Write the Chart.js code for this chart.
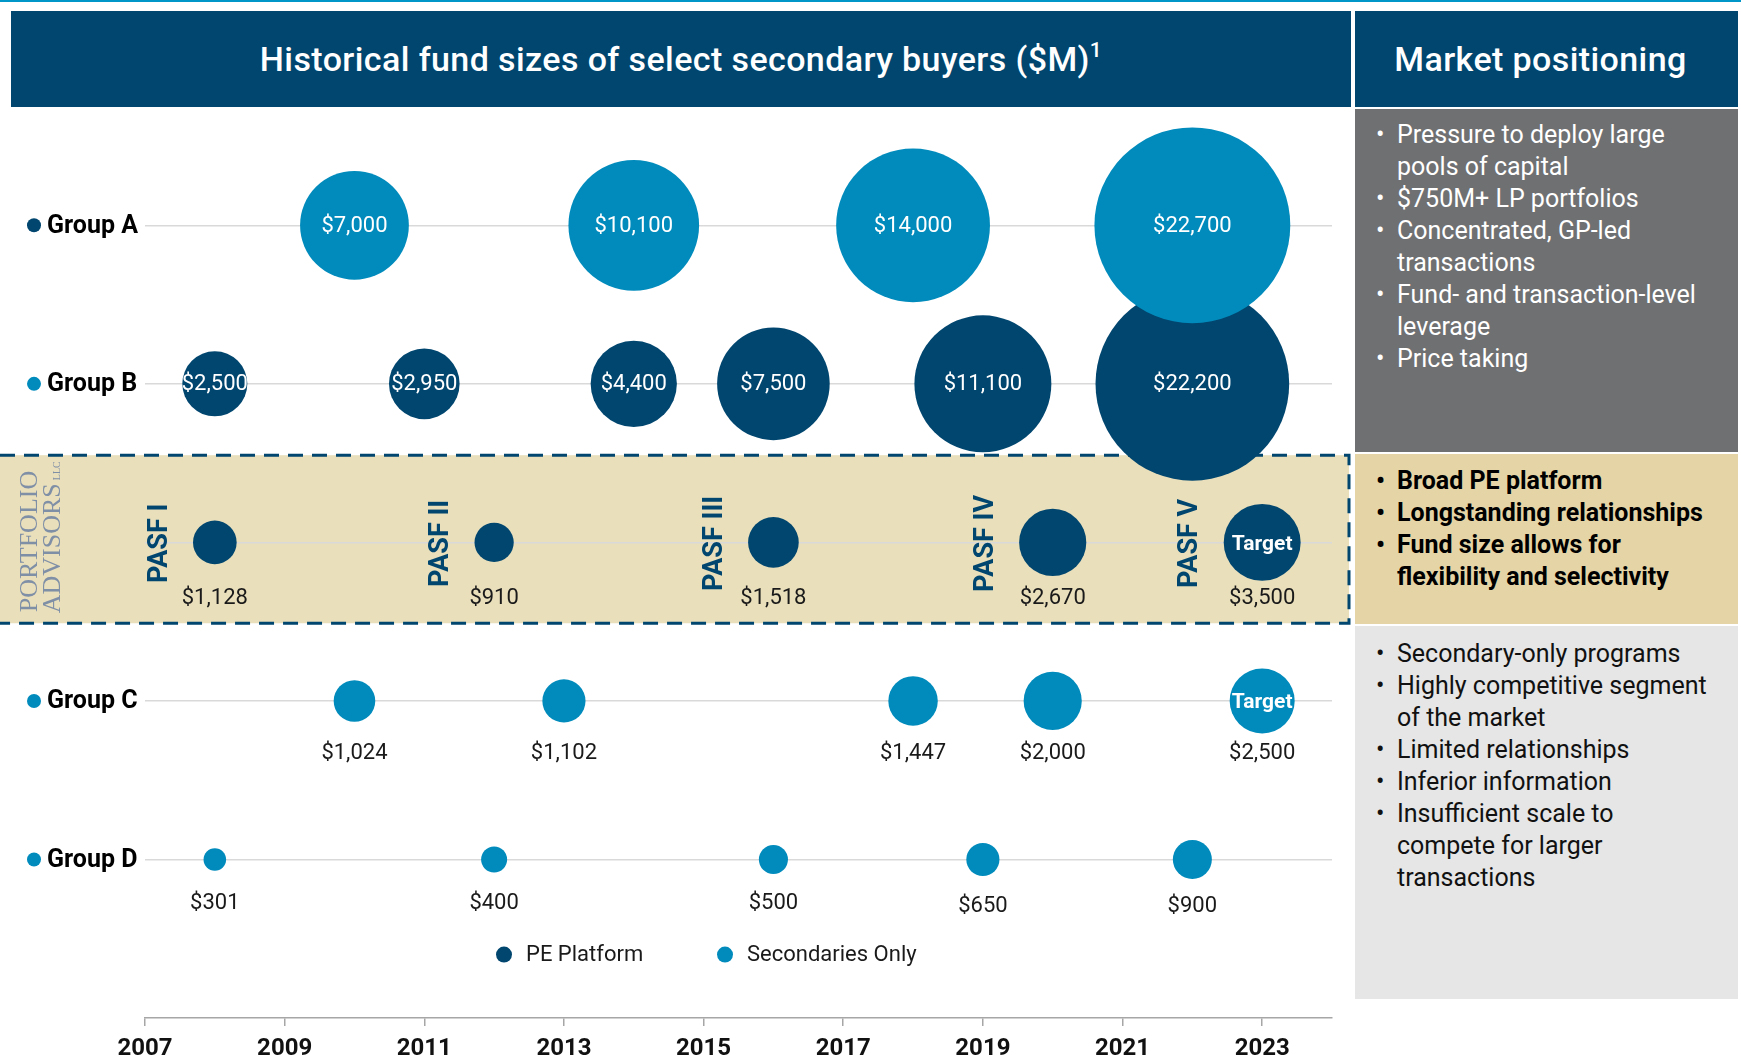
<!DOCTYPE html>
<html><head><meta charset="utf-8">
<script src="https://cdn.jsdelivr.net/npm/chart.js@4.4.1/dist/chart.umd.min.js"></script>
<style>
html,body{margin:0;padding:0;background:#fff;}
body{width:1741px;height:1060px;position:relative;overflow:hidden;font-family:Roboto,'Liberation Sans',sans-serif;}
#topline{position:absolute;left:0;top:0;width:1741px;height:2px;background:#0096c8;}
#wrap{position:absolute;left:0;top:0;width:1351px;height:1060px;}
.hdr{position:absolute;top:11px;height:96px;background:#00466f;color:#fff;display:flex;align-items:center;justify-content:center;font-weight:500;font-size:34px;letter-spacing:0.4px;white-space:nowrap;}
.hdr sup{font-size:21px;vertical-align:14px;line-height:0;}
#hdrL{left:11px;width:1340px;}
#hdrR{left:1355px;width:383px;}
#hdrR span{margin-right:12px;}
.panel{position:absolute;left:1355px;width:383px;box-sizing:border-box;padding-left:42px;font-size:25px;line-height:32px;white-space:nowrap;}
.panel ul{list-style:none;margin:0;padding:0;}
.panel li{position:relative;}
.panel li::before{content:'\2022';position:absolute;left:-21px;}
#p1{top:109px;height:343px;background:#6f7072;color:#fff;padding-top:10px;}
#p2{top:454px;height:170px;background:#e5d5a6;color:#000;font-weight:700;padding-top:11px;}
#p3{top:626px;height:373px;background:#e6e6e6;color:#111;padding-top:12px;}
</style></head>
<body>
<div id="topline"></div>
<div id="wrap"><canvas id="c" width="1351" height="1060"></canvas></div>
<div class="hdr" id="hdrL"><span>Historical fund sizes of select secondary buyers ($M)<sup>1</sup></span></div>
<div class="hdr" id="hdrR"><span>Market positioning</span></div>
<div class="panel" id="p1"><ul>
<li>Pressure to deploy large<br>pools of capital</li>
<li>$750M+ LP portfolios</li>
<li>Concentrated, GP-led<br>transactions</li>
<li>Fund- and transaction-level<br>leverage</li>
<li>Price taking</li>
</ul></div>
<div class="panel" id="p2"><ul>
<li>Broad PE platform</li>
<li>Longstanding relationships</li>
<li>Fund size allows for<br>flexibility and selectivity</li>
</ul></div>
<div class="panel" id="p3"><ul>
<li>Secondary-only programs</li>
<li>Highly competitive segment<br>of the market</li>
<li>Limited relationships</li>
<li>Inferior information</li>
<li>Insufficient scale to<br>compete for larger<br>transactions</li>
</ul></div>
<script>
// ---- data ----
const tickYears = [2007, 2009, 2011, 2013, 2015, 2017, 2019, 2021, 2023];
const rowLabels = ['Group A', 'Group B', '', 'Group C', 'Group D'];
const legendLabels = ['PE Platform', 'Secondaries Only'];

const groupAYears = [2010, 2014, 2018, 2022];
const groupAValues = [7000, 10100, 14000, 22700];

const groupBYears = [2008, 2011, 2014, 2016, 2019, 2022];
const groupBValues = [2500, 2950, 4400, 7500, 11100, 22200];

const pasfYears = [2008, 2012, 2016, 2020, 2023];
const pasfValues = [1128, 910, 1518, 2670, 3500];
const pasfNames = ['PASF I', 'PASF II', 'PASF III', 'PASF IV', 'PASF V'];
const pasfTarget = [false, false, false, false, true];

const groupCYears = [2010, 2013, 2018, 2020, 2023];
const groupCValues = [1024, 1102, 1447, 2000, 2500];
const groupCTarget = [false, false, false, false, true];

const groupDYears = [2008, 2012, 2016, 2019, 2022];
const groupDValues = [301, 400, 500, 650, 900];

// ---- styles ----
const NAVY = '#00466f', LIGHT = '#008bbc', TXT = '#1a1a1a';
const FONT = 'Roboto, "Liberation Sans", sans-serif';
const K = 0.65; // px per sqrt($M)
const rowDotColors = [NAVY, LIGHT, null, LIGHT, LIGHT];
const belowOffset = [0, 0, 56, 53, 44];

function pts(years, values, row) { return years.map((x, i) => ({ x: x, y: row, v: values[i] })); }
function fmt(v) { return '$' + String(v).replace(/\B(?=(\d{3})+(?!\d))/g, ','); }

const ds = (label, data, color) => ({
  label, data, backgroundColor: color, borderWidth: 0, hoverBorderWidth: 0,
  radius: ctx => K * Math.sqrt(ctx.raw.v), hoverRadius: 0, clip: false
});

const bandPlugin = {
  id: 'band',
  beforeDraw(chart) {
    const { ctx, chartArea, scales } = chart;
    const y = scales.y;
    const top = y.getPixelForValue(1.45), bot = y.getPixelForValue(2.51);
    const right = chartArea.right + 17;
    ctx.save();
    ctx.fillStyle = '#e9dfbb';
    ctx.fillRect(0, top, right, bot - top);
    ctx.strokeStyle = NAVY; ctx.lineWidth = 3; ctx.setLineDash([15, 9]);
    ctx.beginPath(); ctx.moveTo(0, top); ctx.lineTo(right, top); ctx.lineTo(right, bot); ctx.lineTo(0, bot); ctx.stroke();
    ctx.setLineDash([]);
    // logo
    ctx.fillStyle = '#7f8fa6';
    ctx.textBaseline = 'alphabetic'; ctx.textAlign = 'left';
    ctx.font = '26px "Liberation Serif", "DejaVu Serif", serif';
    ctx.save(); ctx.translate(37, bot - 11); ctx.rotate(-Math.PI / 2); ctx.fillText('PORTFOLIO', 0, 0); ctx.restore();
    ctx.save(); ctx.translate(60, bot - 10); ctx.rotate(-Math.PI / 2);
    ctx.fillText('ADVISORS', 0, 0);
    const w = ctx.measureText('ADVISORS').width;
    ctx.font = '10px "Liberation Serif", serif'; ctx.fillText('LLC', w + 3, 0);
    ctx.restore();
    ctx.restore();
  }
};

const labelPlugin = {
  id: 'labels',
  afterDatasetsDraw(chart) {
    const { ctx, scales } = chart;
    ctx.save();
    ctx.textAlign = 'center'; ctx.textBaseline = 'middle';
    chart.data.datasets.forEach((d, di) => {
      const meta = chart.getDatasetMeta(di);
      meta.data.forEach((el, i) => {
        const raw = d.data[i];
        const row = raw.y, r = el.options.radius;
        if (row <= 1) {
          ctx.fillStyle = '#fff'; ctx.font = '22px ' + FONT;
          ctx.fillText(fmt(raw.v), el.x, el.y + 1);
        } else {
          ctx.fillStyle = TXT; ctx.font = '22px ' + FONT;
          ctx.fillText(fmt(raw.v), el.x, el.y + belowOffset[row] + (row === 4 && r > 15 ? 3 : 0));
          const tgt = row === 2 ? pasfTarget[i] : (row === 3 ? groupCTarget[i] : false);
          if (tgt) {
            ctx.fillStyle = '#fff'; ctx.font = 'bold 21px ' + FONT;
            ctx.fillText('Target', el.x, el.y + 2);
          }
          if (row === 2) {
            ctx.save();
            ctx.translate(el.x - r - 33, el.y + 1); ctx.rotate(-Math.PI / 2);
            ctx.fillStyle = NAVY; ctx.font = 'bold 27px ' + FONT;
            ctx.fillText(pasfNames[i], 0, 0);
            ctx.restore();
          }
        }
      });
    });
    // row labels
    rowLabels.forEach((lab, row) => {
      if (!lab) return;
      const yp = scales.y.getPixelForValue(row);
      ctx.fillStyle = rowDotColors[row];
      ctx.beginPath(); ctx.arc(34, yp, 7, 0, Math.PI * 2); ctx.fill();
      ctx.fillStyle = '#000'; ctx.font = 'bold 25px ' + FONT; ctx.textAlign = 'left';
      ctx.fillText(lab, 47, yp + 1);
    });
    // legend
    const ly = scales.y.getPixelForValue(4.6);
    const items = [[504, NAVY], [725, LIGHT]];
    items.forEach((it, k) => {
      ctx.fillStyle = it[1];
      ctx.beginPath(); ctx.arc(it[0], ly, 8, 0, Math.PI * 2); ctx.fill();
      ctx.fillStyle = TXT; ctx.font = '22px ' + FONT; ctx.textAlign = 'left';
      ctx.fillText(legendLabels[k], it[0] + 22, ly + 1);
    });
    ctx.restore();
  }
};

new Chart(document.getElementById('c'), {
  type: 'bubble',
  data: {
    datasets: [
      ds('Group A', pts(groupAYears, groupAValues, 0), LIGHT),
      ds('Group B', pts(groupBYears, groupBValues, 1), NAVY),
      ds('PASF', pts(pasfYears, pasfValues, 2), NAVY),
      ds('Group C', pts(groupCYears, groupCValues, 3), LIGHT),
      ds('Group D', pts(groupDYears, groupDValues, 4), LIGHT)
    ]
  },
  options: {
    responsive: false, animation: false, events: [], devicePixelRatio: 1,
    layout: { autoPadding: false, padding: { left: 145, right: 19, top: 108, bottom: 0 } },
    plugins: { legend: { display: false }, tooltip: { enabled: false } },
    scales: {
      x: {
        type: 'linear', min: 2007, max: 2024,
        afterBuildTicks: s => { s.ticks = tickYears.map(v => ({ value: v })); },
        afterFit: s => { s.height = 42; },
        grid: { drawOnChartArea: false, drawTicks: true, tickLength: 8, color: '#a6a6a6', lineWidth: 1.5 },
        border: { color: '#a6a6a6', width: 1.5 },
        ticks: { color: '#111', padding: 9, font: { family: FONT, size: 24, weight: 'bold' }, callback: v => String(v), maxRotation: 0, autoSkip: false }
      },
      y: {
        type: 'linear', min: -0.74, max: 5, reverse: true,
        afterBuildTicks: s => { s.ticks = [0, 1, 2, 3, 4].map(v => ({ value: v })); },
        afterFit: s => { s.width = 0; },
        grid: { color: '#d9d9d9', lineWidth: 1.5, drawTicks: false },
        border: { display: false },
        ticks: { display: false }
      }
    }
  },
  plugins: [bandPlugin, labelPlugin]
});
</script>
</body></html>
